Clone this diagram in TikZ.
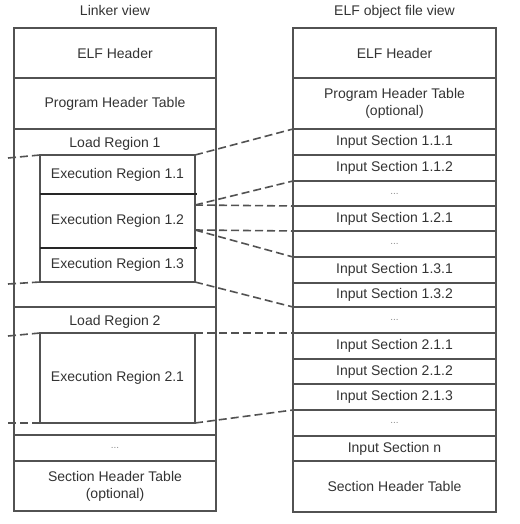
\documentclass[tikz,border=0pt]{standalone}
\usepackage{fontspec}
\setmainfont{Liberation Sans}
\usetikzlibrary{positioning}
\definecolor{edge}{gray}{0.32}
\definecolor{ink}{gray}{0.2}
\tikzstyle{blk}=[draw=edge, line width=1.4pt, outer sep=0pt, inner sep=0pt, text=ink, align=center, font=\fontsize{14}{17}\selectfont]
\tikzstyle{lcol}=[blk, minimum width=202pt]
\tikzstyle{rcol}=[blk, minimum width=203pt]
\tikzstyle{exe}=[blk, minimum width=155pt]
\tikzstyle{tag}=[text=ink, font=\fontsize{14}{17}\selectfont, anchor=center, yshift=-15pt]
\tikzstyle{gap}=[text=black!45, font=\fontsize{10}{12}\selectfont]
\tikzstyle{sep}=[draw=black!85, line width=2.2pt]
\tikzstyle{link}=[draw=edge, line width=1.6pt, dash pattern=on 8pt off 4pt]

\begin{document}
\begin{tikzpicture}[x=1pt,y=-1pt,node distance=0pt]
    \useasboundingbox (0,0) rectangle (519,524);
    % linker view
    \node [lcol, minimum height=50pt, anchor=north west] (lh) at (14,28) {ELF Header};
    \node [above=12pt of lh.north, anchor=base, text=ink, font=\fontsize{14}{17}\selectfont] (lt) {Linker view};
    \node [lcol, minimum height=51pt, below=of lh] (lp) {Program Header Table};
    \node [lcol, minimum height=178pt, below=of lp, label={[tag]north:Load Region 1}] (lr1) {};
    \node [lcol, minimum height=128pt, below=of lr1, label={[tag]north:Load Region 2}] (lr2) {};
    \node [lcol, gap, minimum height=26pt, below=of lr2] (ld) {...};
    \node [lcol, minimum height=50pt, below=of ld] (ls) {Section Header Table\\(optional)};
    \node [exe, minimum height=39pt, below right=26pt and 26pt of lr1.north west] (e11) {Execution Region 1.1};
    \node [exe, minimum height=54pt, below=of e11] (e12) {Execution Region 1.2};
    \node [exe, minimum height=34pt, below=of e12] (e13) {Execution Region 1.3};
    \node [exe, minimum height=90pt, below right=26pt and 26pt of lr2.north west] (e21) {Execution Region 2.1};
    \draw [sep] (e11.south west) -- ([xshift=2pt]e11.south east);
    \draw [sep] (e12.south west) -- ([xshift=2pt]e12.south east);
    % ELF object file view
    \node [rcol, minimum height=50pt, anchor=north west] (rh) at (293,28) {ELF Header};
    \node [above=12pt of rh.north, anchor=base, text=ink, font=\fontsize{14}{17}\selectfont] (rt) {ELF object file view};
    \node [rcol, minimum height=51pt, below=of rh] (rp) {Program Header Table\\(optional)};
    \node [rcol, minimum height=26pt, below=of rp] (r111) {Input Section 1.1.1};
    \node [rcol, minimum height=26pt, below=of r111] (r112) {Input Section 1.1.2};
    \node [rcol, gap, minimum height=25pt, below=of r112] (rd1) {...};
    \node [rcol, minimum height=25pt, below=of rd1] (r121) {Input Section 1.2.1};
    \node [rcol, gap, minimum height=26pt, below=of r121] (rd2) {...};
    \node [rcol, minimum height=26pt, below=of rd2] (r131) {Input Section 1.3.1};
    \node [rcol, minimum height=24pt, below=of r131] (r132) {Input Section 1.3.2};
    \node [rcol, gap, minimum height=26pt, below=of r132] (rd3) {...};
    \node [rcol, minimum height=26pt, below=of rd3] (r211) {Input Section 2.1.1};
    \node [rcol, minimum height=25pt, below=of r211] (r212) {Input Section 2.1.2};
    \node [rcol, minimum height=26pt, below=of r212] (r213) {Input Section 2.1.3};
    \node [rcol, gap, minimum height=26pt, below=of r213] (rd4) {...};
    \node [rcol, minimum height=25pt, below=of rd4] (rn) {Input Section n};
    \node [rcol, minimum height=51pt, below=of rn] (rs) {Section Header Table};
    % dashed links
    \coordinate (a1) at (8,158);
    \coordinate (a2) at (8,284);
    \coordinate (a3) at (8,336);
    \coordinate (a4) at (8,423);
    \draw [link] (a1) -- (e11.north west);
    \draw [link] (a2) -- (e13.south west);
    \draw [link] (a3) -- (e21.north west);
    \draw [link] (a4) -- (e21.south west);
    \draw [link] (e11.north east) -- (r111.north west);
    \draw [link] ([yshift=16pt]e12.east) -- (r112.south west);
    \draw [link] ([yshift=16pt]e12.east) -- (rd1.south west);
    \draw [link] ([yshift=-9pt]e12.east) -- (r121.south west);
    \draw [link] ([yshift=-9pt]e12.east) -- (rd2.south west);
    \draw [link] (e13.south east) -- (r132.south west);
    \draw [link] (e21.north east) -- (rd3.south west);
    \draw [link] (e21.south east) -- (r213.south west);
\end{tikzpicture}
\end{document}
